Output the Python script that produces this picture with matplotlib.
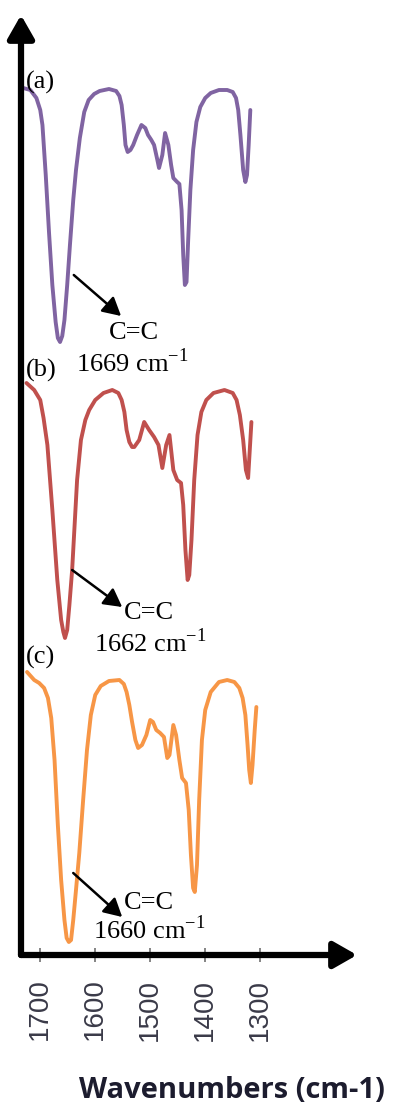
import matplotlib
matplotlib.use('Agg')
import matplotlib.pyplot as plt

# FTIR spectra, transmittance in arbitrary units
wn_a = [1731, 1718, 1707, 1700, 1696, 1690, 1684, 1678, 1672, 1668, 1664, 1660, 1656, 1651,
        1646, 1640, 1635, 1628, 1620, 1612, 1602, 1592, 1575, 1562, 1556, 1552, 1548, 1545,
        1541, 1536, 1531, 1524, 1516, 1509, 1504, 1498, 1493, 1487, 1484, 1478, 1473, 1467,
        1462, 1458, 1451, 1447, 1443, 1440, 1437, 1434, 1431, 1427, 1422, 1416, 1409, 1400,
        1390, 1375, 1360, 1350, 1344, 1340, 1336, 1331, 1327, 1324, 1321, 1318]
t_a = [262, 260, 252, 240, 225, 175, 117, 65, 28, 12, 8, 14, 30, 65,
       105, 150, 180, 212, 238, 250, 256, 259, 261, 259, 254, 245, 225, 205,
       198, 200, 205, 215, 225, 222, 215, 210, 205, 190, 182, 195, 217, 205,
       185, 172, 168, 166, 140, 95, 65, 68, 110, 160, 200, 228, 243, 252,
       257, 260, 260, 258, 252, 240, 215, 180, 168, 175, 205, 240]

wn_b = [1725, 1711, 1700, 1694, 1687, 1678, 1669, 1662, 1658, 1655, 1651, 1647, 1642, 1633,
        1626, 1618, 1611, 1600, 1585, 1569, 1558, 1552, 1547, 1543, 1538, 1533, 1529, 1520,
        1511, 1502, 1493, 1485, 1478, 1471, 1465, 1458, 1451, 1444, 1440, 1436, 1432, 1429,
        1425, 1420, 1414, 1407, 1398, 1385, 1365, 1350, 1343, 1337, 1331, 1326, 1322, 1319,
        1316]
t_b = [267, 260, 250, 232, 205, 140, 70, 30, 18, 12, 20, 45, 80, 170,
       210, 230, 240, 250, 257, 260, 257, 250, 238, 220, 208, 203, 203, 210,
       228, 220, 213, 205, 182, 205, 215, 180, 170, 167, 145, 100, 70, 75,
       110, 170, 215, 238, 250, 257, 260, 257, 250, 235, 210, 180, 172, 200,
       228]

wn_c = [1724, 1711, 1702, 1693, 1686, 1680, 1674, 1668, 1662, 1656, 1652, 1648, 1644, 1640,
        1635, 1629, 1622, 1615, 1608, 1600, 1590, 1575, 1556, 1548, 1543, 1538, 1533, 1527,
        1522, 1515, 1507, 1500, 1495, 1489, 1482, 1475, 1469, 1465, 1458, 1453, 1447, 1442,
        1435, 1430, 1426, 1422, 1419, 1415, 1411, 1406, 1400, 1390, 1375, 1360, 1347, 1338,
        1332, 1327, 1323, 1320, 1317, 1314, 1310, 1307]
t_c = [278, 270, 267, 262, 252, 232, 190, 125, 70, 30, 12, 8, 10, 30,
       60, 97, 150, 200, 235, 255, 264, 269, 270, 266, 258, 245, 228, 210,
       202, 205, 215, 230, 228, 220, 217, 213, 192, 195, 225, 215, 190, 172,
       167, 140, 95, 62, 58, 85, 150, 210, 240, 258, 268, 270, 268, 262,
       252, 235, 205, 180, 167, 185, 220, 243]

labels = ['(a)', '(b)', '(c)']
peaks = ['1669', '1662', '1660']
colors = ['#8064A2', '#C0504D', '#F79646']
offsets = [605, 305, 5]
xticks = [1700, 1600, 1500, 1400, 1300]

serif = ['Liberation Serif', 'DejaVu Serif']

fig = plt.figure(figsize=(3.96, 11.06), dpi=100)
ax = fig.add_axes([21 / 396, 151 / 1106, (357 - 21) / 396, (954 - 14) / 1106])
ax.set_xlim(1735, 1124)
ax.set_ylim(0, 940)

series = [(wn_a, t_a), (wn_b, t_b), (wn_c, t_c)]
for (wn, t), off, col in zip(series, offsets, colors):
    ax.plot(wn, [v + off for v in t], color=col, lw=2.8, solid_joinstyle='round',
            solid_capstyle='round')

# spectrum labels and C=C annotations
for lab, ly in zip(labels, [873, 585, 298]):
    ax.text(1727, ly, lab, family=serif, fontsize=19, ha='left', va='center')

arrows = [((1639, 680), (1553, 639), (1530, 622), (1532, 592)),
          ((1642, 385), (1551, 348), (1502, 342), (1500, 312)),
          ((1640, 82), (1551, 38), (1502, 52), (1502, 25))]
for (tail, tip, t1, t2), pk in zip(arrows, peaks):
    ax.annotate('', xy=tip, xytext=tail,
                arrowprops=dict(arrowstyle='-|>,head_length=0.55,head_width=0.3',
                                color='black', lw=1.8, mutation_scale=20,
                                shrinkA=0, shrinkB=0))
    ax.text(t1[0], t1[1], 'C=C', family=serif, fontsize=19, ha='center', va='center')
    ax.text(t2[0], t2[1], pk + r' cm$^{\mathregular{-1}}$', family=serif, fontsize=19,
            ha='center', va='center')

# axes drawn as arrows
for s in ax.spines.values():
    s.set_visible(False)
for end in [(0, 1), (1, 0)]:
    ax.annotate('', xy=end, xytext=(0, 0), xycoords='axes fraction',
                arrowprops=dict(arrowstyle='-|>,head_length=0.7,head_width=0.4',
                                color='black', lw=4.5, mutation_scale=20,
                                shrinkA=0, shrinkB=0), annotation_clip=False)

ax.set_xticks(xticks)
ax.set_xticklabels([str(x) for x in xticks], rotation=90, family='Liberation Sans',
                   fontsize=20, color='#3a3a48')
ax.tick_params(axis='x', direction='inout', length=10, width=1.2, color='#707070', pad=12)
ax.set_yticks([])
fig.text(232 / 396, 1 - 1090 / 1106, 'Wavenumbers (cm-1)', family='Open Sans',
         fontweight='bold', fontsize=21, color='#1c1c2e', ha='center', va='center')

fig.savefig('out.png', dpi=100)
